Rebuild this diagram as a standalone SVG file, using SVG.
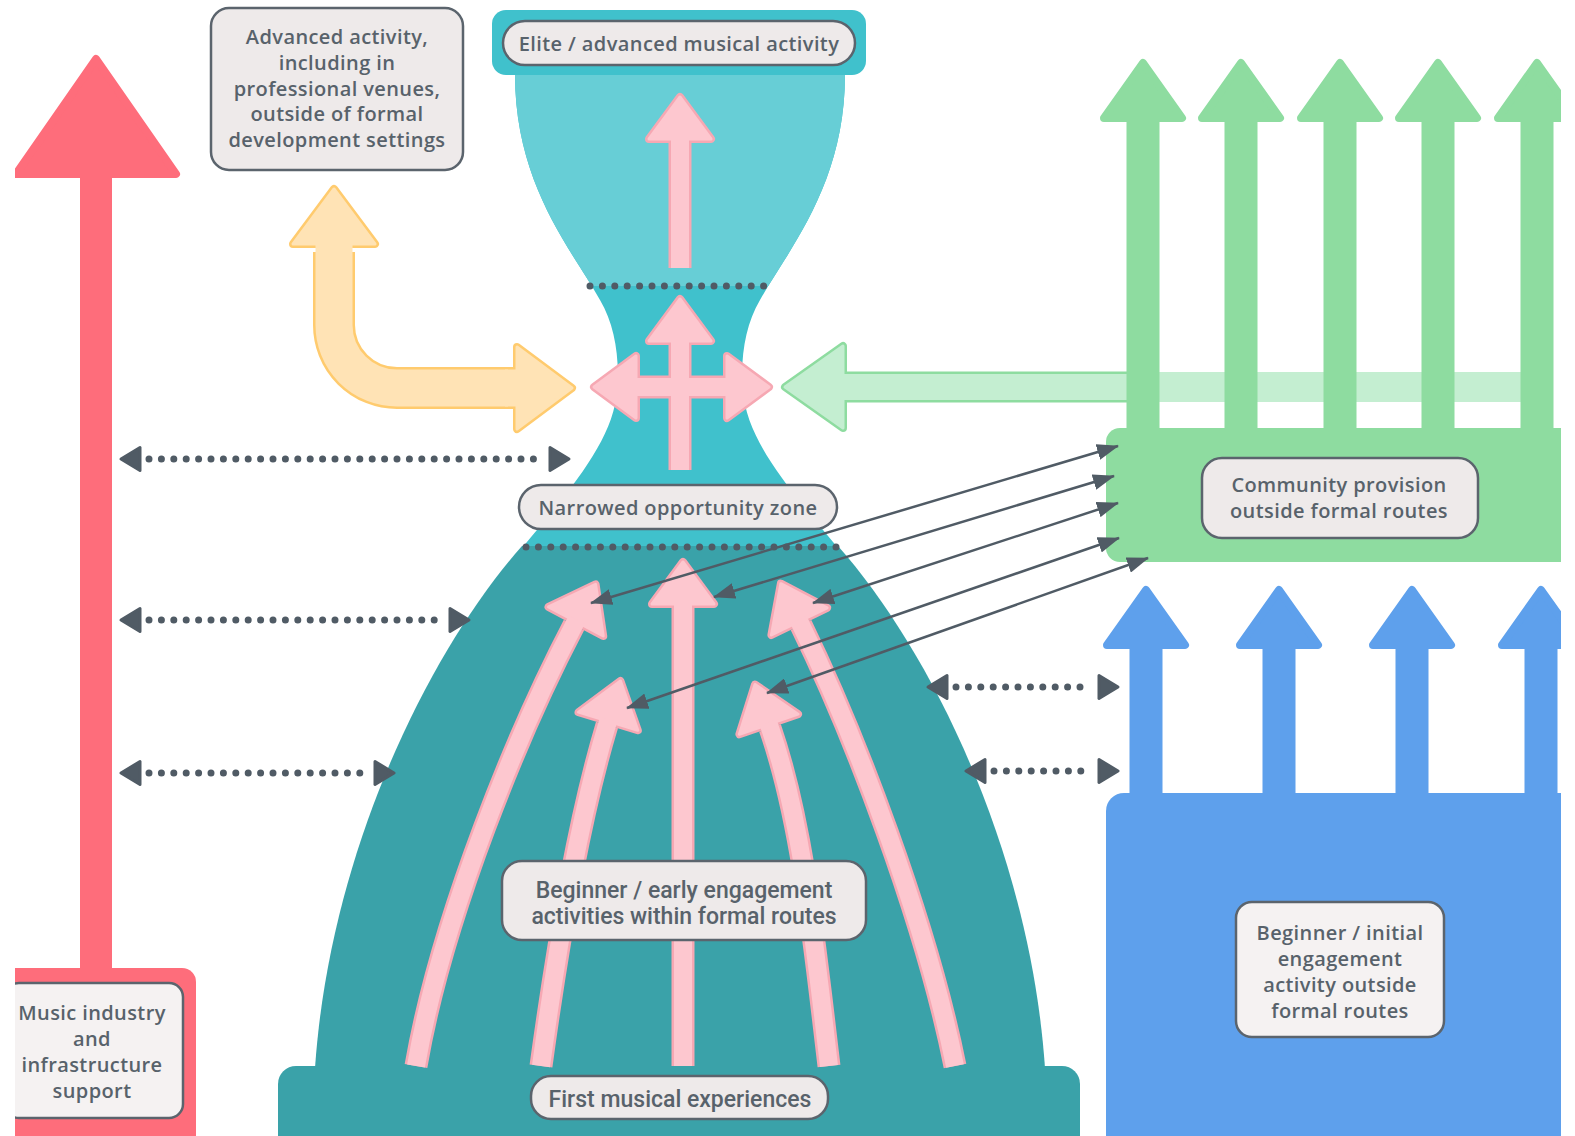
<svg xmlns="http://www.w3.org/2000/svg" width="1575" height="1136" viewBox="0 0 1575 1136">
<defs>
<style>
.lbl{fill:#EEEAEA;stroke:#5B646D;stroke-width:2.5}
.lbl2{fill:#F5F2F2;stroke:#5B646D;stroke-width:2.5}
.t{font-family:"Open Sans","Liberation Sans",sans-serif;font-size:20px;font-weight:600;letter-spacing:0.4px;fill:#58626B;text-anchor:middle}
.tc{font-family:Roboto,"Liberation Sans",sans-serif;font-size:23px;font-weight:500;fill:#58626B;text-anchor:middle}
.dots{fill:none;stroke:#505B65;stroke-width:7;stroke-linecap:round;stroke-dasharray:0 12.4}
.dh{fill:#505B65;stroke:#505B65;stroke-width:3;stroke-linejoin:round}
.conn{fill:none;stroke:#505B65;stroke-width:2.5;marker-start:url(#ah);marker-end:url(#ah)}
.pO{fill:none;stroke:#F6A8B3;stroke-width:23}
.pF{fill:none;stroke:#FDC7CF;stroke-width:18}
.yO{fill:none;stroke:#FFCB6E;stroke-width:42}
.yF{fill:none;stroke:#FFE3B5;stroke-width:37}
.gO{fill:none;stroke:#8EDCA0;stroke-width:31}
.gF{fill:none;stroke:#C4EED1;stroke-width:26}
.red{fill:#FE6D7B}
.grn{fill:#8EDCA0}
.blu{fill:#5EA0EC}
.redh{fill:#FE6D7B;stroke:#FE6D7B;stroke-width:8;stroke-linejoin:round}
.grnh{fill:#8EDCA0;stroke:#8EDCA0;stroke-width:8;stroke-linejoin:round}
.bluh{fill:#5EA0EC;stroke:#5EA0EC;stroke-width:8;stroke-linejoin:round}
</style>
<clipPath id="frame"><rect x="15" y="0" width="1546" height="1136"/></clipPath>
<clipPath id="hg"><path d="M515 75 C515 185 572 250 600 300 C615 325 620 360 617 390 C614 440 570 490 522 548 L838 548 C790 490 746 440 743 390 C740 360 745 325 760 300 C788 250 845 185 845 75 Z"/></clipPath>
<g id="ph">
<polygon points="0,-46 31,-4 -31,-4" fill="#F6A8B3" stroke="#F6A8B3" stroke-width="8" stroke-linejoin="round"/>
<polygon points="0,-46 31,-4 -31,-4" fill="#FDC7CF" stroke="#FDC7CF" stroke-width="3" stroke-linejoin="round"/>
</g>
<g id="yh">
<polygon points="0,-59 41,-4 -41,-4" fill="#FFCB6E" stroke="#FFCB6E" stroke-width="8" stroke-linejoin="round"/>
<polygon points="0,-59 41,-4 -41,-4" fill="#FFE3B5" stroke="#FFE3B5" stroke-width="3" stroke-linejoin="round"/>
</g>
<g id="gh">
<polygon points="0,-62 41,-4 -41,-4" fill="#8EDCA0" stroke="#8EDCA0" stroke-width="8" stroke-linejoin="round"/>
<polygon points="0,-62 41,-4 -41,-4" fill="#C4EED1" stroke="#C4EED1" stroke-width="3" stroke-linejoin="round"/>
</g>
<polygon id="dhd" class="dh" points="0,0 19,-11.5 19,11.5"/>
<marker id="ah" viewBox="0 0 22 16" refX="21" refY="8" markerWidth="22" markerHeight="16" markerUnits="userSpaceOnUse" orient="auto-start-reverse">
<path d="M0 0 L22 8 L0 16 Z" fill="#505B65"/>
</marker>
</defs>
<rect width="1575" height="1136" fill="#FFFFFF"/>
<g clip-path="url(#frame)">

<g id="hourglass">
<path d="M515 75 C515 185 572 250 600 300 C615 325 620 360 617 390 C614 440 570 490 522 548 L838 548 C790 490 746 440 743 390 C740 360 745 325 760 300 C788 250 845 185 845 75 Z" fill="#40C1CC"/>
<rect x="500" y="60" width="360" height="226" fill="#67CED6" clip-path="url(#hg)"/>
<path d="M522 546 C430 650 330 850 315 1068 L1045 1068 C1030 850 930 650 838 546 Z" fill="#3AA2A9"/>
<rect x="278" y="1066" width="802" height="100" rx="18" fill="#3AA2A9"/>
<rect x="492" y="10" width="374" height="65" rx="14" fill="#40C1CC"/>
<path class="dots" d="M590 286 H773"/>
<path class="dots" d="M526 547 H837"/>
</g>

<g id="red-arrow">
<rect class="red" x="80" y="170" width="32" height="810"/>
<polygon class="redh" points="96,59 176,174 16,174"/>
<rect class="red" x="-10" y="968" width="206" height="200" rx="14"/>
</g>

<g id="green-arrows">
<path class="gO" d="M845 387 H1128"/>
<path class="gF" d="M845 387 H1128"/>
<rect x="1128" y="372" width="400" height="30" fill="#C4EED1"/>
<use href="#gh" transform="translate(847,387) rotate(-90)"/>
<path class="gF" d="M840 387 H855"/>
<rect class="grn" x="1126.5" y="115" width="33" height="320"/>
<rect class="grn" x="1224.5" y="115" width="33" height="320"/>
<rect class="grn" x="1323.5" y="115" width="33" height="320"/>
<rect class="grn" x="1421.5" y="115" width="33" height="320"/>
<rect class="grn" x="1520.5" y="115" width="33" height="320"/>
<polygon class="grnh" points="1143,63 1182,118 1104,118"/>
<polygon class="grnh" points="1241,63 1280,118 1202,118"/>
<polygon class="grnh" points="1340,63 1379,118 1301,118"/>
<polygon class="grnh" points="1438,63 1477,118 1399,118"/>
<polygon class="grnh" points="1537,63 1576,118 1498,118"/>
<rect class="grn" x="1106" y="428" width="500" height="134" rx="14"/>
</g>

<g id="blue-arrows">
<rect class="blu" x="1129.5" y="640" width="33" height="160"/>
<rect class="blu" x="1262.5" y="640" width="33" height="160"/>
<rect class="blu" x="1395.5" y="640" width="33" height="160"/>
<rect class="blu" x="1524.5" y="640" width="33" height="160"/>
<polygon class="bluh" points="1146,590 1185,645 1107,645"/>
<polygon class="bluh" points="1279,590 1318,645 1240,645"/>
<polygon class="bluh" points="1412,590 1451,645 1373,645"/>
<polygon class="bluh" points="1541,590 1580,645 1502,645"/>
<rect class="blu" x="1106" y="793" width="500" height="400" rx="18"/>
</g>

<g id="yellow-arrow">
<path class="yO" d="M334 252 V325 A63 63 0 0 0 397 388 H517"/>
<use href="#yh" transform="translate(334,248)"/>
<use href="#yh" transform="translate(513,388) rotate(90)"/>
<path class="yF" d="M334 256 V325 A63 63 0 0 0 397 388 H508"/>
<path class="yF" d="M334 244 V256"/>
<path class="yF" d="M505 388 H519"/>
</g>

<g id="pink-arrows">
<path class="pO" d="M680 268 V143"/>
<use href="#ph" transform="translate(680,143)"/>
<path class="pF" d="M680 268 V137"/>

<path class="pO" d="M680 470 V345 M640 387 H723"/>
<use href="#ph" transform="translate(680,345)"/>
<use href="#ph" transform="translate(640,387) rotate(-90)"/>
<use href="#ph" transform="translate(723,387) rotate(90)"/>
<path class="pF" d="M680 470 V339 M634 387 H729"/>

<path class="pO" d="M416 1066 C442 915 520 728 574 625"/>
<path class="pO" d="M541 1066 C557 949 578 821 607 725"/>
<path class="pO" d="M683 1066 V608"/>
<path class="pO" d="M829 1066 C815 949 803 823 770 728"/>
<path class="pO" d="M955 1066 C926 921 854 733 801 625"/>
<use href="#ph" transform="translate(574,625) rotate(28)"/>
<use href="#ph" transform="translate(607,725) rotate(17)"/>
<use href="#ph" transform="translate(683,608)"/>
<use href="#ph" transform="translate(770,728) rotate(-19)"/>
<use href="#ph" transform="translate(801,625) rotate(-26)"/>
<path class="pF" d="M416 1066 C442 915 520 728 574 625 l2.8 -5.3"/>
<path class="pF" d="M541 1066 C557 949 578 821 607 725 l1.75 -5.74"/>
<path class="pF" d="M683 1066 V602"/>
<path class="pF" d="M829 1066 C815 949 803 823 770 728 l-1.96 -5.67"/>
<path class="pF" d="M955 1066 C926 921 854 733 801 625 l-2.63 -5.39"/>
</g>

<g id="dotted-links">
<path class="dots" d="M149 459 H541"/>
<use href="#dhd" transform="translate(121,459)"/>
<use href="#dhd" transform="translate(569,459) rotate(180)"/>
<path class="dots" d="M149 620 H441"/>
<use href="#dhd" transform="translate(121,620)"/>
<use href="#dhd" transform="translate(469,620) rotate(180)"/>
<path class="dots" d="M149 773 H367"/>
<use href="#dhd" transform="translate(121,773)"/>
<use href="#dhd" transform="translate(394,773) rotate(180)"/>
<path class="dots" d="M956 687 H1090"/>
<use href="#dhd" transform="translate(928,687)"/>
<use href="#dhd" transform="translate(1118,687) rotate(180)"/>
<path class="dots" d="M994 771 H1090"/>
<use href="#dhd" transform="translate(966,771)"/>
<use href="#dhd" transform="translate(1118,771) rotate(180)"/>
</g>

<g id="node-advanced">
<rect class="lbl" x="211" y="8" width="252" height="162" rx="18"/>
<text class="t" x="337" y="44">Advanced activity,</text>
<text class="t" x="337" y="70">including in</text>
<text class="t" x="337" y="96">professional venues,</text>
<text class="t" x="337" y="121">outside of formal</text>
<text class="t" x="337" y="147">development settings</text>
</g>
<g id="node-elite">
<rect class="lbl" x="503" y="21" width="352" height="44" rx="22"/>
<text class="t" x="679" y="51">Elite / advanced musical activity</text>
</g>
<g id="node-narrowed">
<rect class="lbl" x="519" y="485" width="318" height="44" rx="22"/>
<text class="t" x="678" y="515">Narrowed opportunity zone</text>
</g>
<g id="node-community">
<rect class="lbl" x="1202" y="458" width="276" height="80" rx="20"/>
<text class="t" x="1339" y="492">Community provision</text>
<text class="t" x="1339" y="518">outside formal routes</text>
</g>
<g id="node-beginner-formal">
<rect class="lbl" x="502" y="861" width="364" height="79" rx="20"/>
<text class="tc" x="684" y="898">Beginner / early engagement</text>
<text class="tc" x="684" y="924">activities within formal routes</text>
</g>
<g id="node-first">
<rect class="lbl" x="531" y="1076" width="297" height="43" rx="20"/>
<text class="tc" x="680" y="1107">First musical experiences</text>
</g>
<g id="node-beginner-outside">
<rect class="lbl2" x="1236" y="902" width="208" height="135" rx="16"/>
<text class="t" x="1340" y="940">Beginner / initial</text>
<text class="t" x="1340" y="966">engagement</text>
<text class="t" x="1340" y="992">activity outside</text>
<text class="t" x="1340" y="1018">formal routes</text>
</g>
<g id="node-industry">
<rect class="lbl2" x="5" y="983" width="178" height="135" rx="14"/>
<text class="t" x="92" y="1020">Music industry</text>
<text class="t" x="92" y="1046">and</text>
<text class="t" x="92" y="1072">infrastructure</text>
<text class="t" x="92" y="1098">support</text>
</g>

<g id="connectors">
<path class="conn" d="M591 603 L1118 446"/>
<path class="conn" d="M714 597 L1114 476"/>
<path class="conn" d="M813 603 L1118 503"/>
<path class="conn" d="M627 708 L1119 538"/>
<path class="conn" d="M767 693 L1148 558"/>
</g>
</g>
</svg>
